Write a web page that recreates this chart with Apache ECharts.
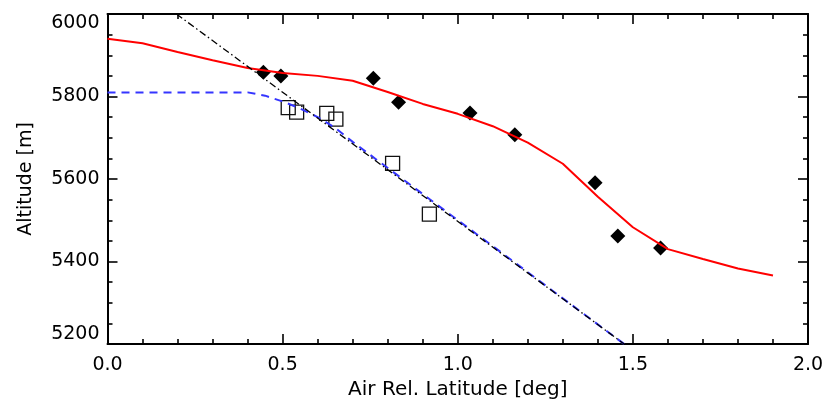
<!DOCTYPE html>
<html>
<head>
<meta charset="utf-8">
<script src="https://cdn.jsdelivr.net/npm/echarts@6/dist/echarts.min.js"></script>
<style>
html,body{margin:0;padding:0;background:#fff;}
#chart{width:826px;height:402px;}
</style>
</head>
<body>
<div id="chart"></div>
<script>
// Red solid model curve
var redX = [0.0, 0.1, 0.2, 0.3, 0.4, 0.5, 0.6, 0.7, 0.8, 0.9, 1.0, 1.1, 1.2, 1.3, 1.4, 1.5, 1.6, 1.7, 1.8, 1.9];
var redY = [5940, 5929, 5908, 5888, 5869, 5857, 5850, 5838, 5811, 5782, 5758, 5728, 5688, 5637, 5557, 5483, 5430, 5406, 5383, 5366];
// Blue dashed model curve
var blueX = [0.0, 0.4, 0.45, 0.5, 0.55, 0.6, 0.65, 0.7, 1.475];
var blueY = [5810, 5810, 5802, 5788, 5771, 5750, 5724, 5690, 5200];
// Black dash-dot straight line
var blackX = [0.197, 1.475];
var blackY = [6000, 5200];
// Filled diamonds
var diamondX = [0.445, 0.495, 0.759, 0.831, 1.035, 1.163, 1.392, 1.457, 1.579];
var diamondY = [5859, 5850, 5844, 5786, 5760, 5707, 5591, 5462, 5433];
// Open squares
var squareX = [0.516, 0.540, 0.626, 0.652, 0.814, 0.919];
var squareY = [5773, 5762, 5759, 5745, 5638, 5515];
// Axis ticks
var xTicks = ["0.0", "0.5", "1.0", "1.5", "2.0"];
var yTicks = ["5200", "5400", "5600", "5800", "6000"];

function pairs(xs, ys) { return xs.map(function (x, i) { return [x, ys[i]]; }); }

var FONT = 'DejaVu Sans';
var axisLineStyle = { color: '#000', width: 2 };
var tickStyle = { color: '#000', width: 1.6 };

function xAx(pos, labels) {
  return {
    type: 'value', position: pos, min: 0, max: 2, interval: 0.5,
    axisLine: { show: true, onZero: false, lineStyle: axisLineStyle },
    axisTick: { show: true, inside: true, length: 10, lineStyle: tickStyle },
    minorTick: { show: true, splitNumber: 5, length: 5, lineStyle: tickStyle },
    splitLine: { show: false },
    axisLabel: { show: labels, margin: 12, color: '#000', fontFamily: FONT, fontSize: 19,
      formatter: function (v) { var i = Math.round(v / 0.5); return xTicks[i]; } },
    name: labels ? 'Air Rel. Latitude [deg]' : '', nameLocation: 'middle', nameGap: 33,
    nameTextStyle: { color: '#000', fontFamily: FONT, fontSize: 20 }
  };
}
function yAx(pos, labels) {
  return {
    type: 'value', position: pos, min: 5200, max: 6000, interval: 200,
    axisLine: { show: true, onZero: false, lineStyle: axisLineStyle },
    axisTick: { show: true, inside: true, length: 10, lineStyle: tickStyle },
    minorTick: { show: true, splitNumber: 4, length: 5, lineStyle: tickStyle },
    splitLine: { show: false },
    axisLabel: { show: labels, margin: 8, color: '#000', fontFamily: FONT, fontSize: 19,
      verticalAlignMaxLabel: 'top', verticalAlignMinLabel: 'bottom',
      formatter: function (v) { var i = Math.round((v - 5200) / 200); return yTicks[i]; } },
    name: labels ? 'Altitude [m]' : '', nameLocation: 'middle', nameGap: 72, nameRotate: 90,
    nameTextStyle: { color: '#000', fontFamily: FONT, fontSize: 19 }
  };
}

var chart = echarts.init(document.getElementById('chart'), null, { renderer: 'canvas' });
chart.setOption({
  animation: false,
  backgroundColor: '#fff',
  grid: { left: 107.5, right: 18, top: 14, bottom: 58, containLabel: false, outerBoundsMode: 'none' },
  xAxis: [xAx('bottom', true), xAx('top', false)],
  yAxis: [yAx('left', true), yAx('right', false)],
  series: [
    { type: 'line', data: pairs(redX, redY), symbol: 'none', silent: true,
      lineStyle: { color: '#ff0000', width: 2 } },
    { type: 'line', data: pairs(blueX, blueY), symbol: 'none', silent: true,
      lineStyle: { color: '#3535ff', width: 2, type: [8, 6] } },
    { type: 'line', data: pairs(blackX, blackY), symbol: 'none', silent: true,
      lineStyle: { color: '#000', width: 1.3, type: [7, 3, 1.5, 3] } },
    { type: 'scatter', data: pairs(squareX, squareY), symbol: 'rect', symbolSize: 14,
      itemStyle: { color: 'rgba(255,255,255,0)', borderColor: '#111', borderWidth: 1.3, opacity: 1 } },
    { type: 'scatter', data: pairs(diamondX, diamondY), symbol: 'diamond', symbolSize: 15,
      itemStyle: { color: '#000', opacity: 1 } }
  ]
});
</script>
</body>
</html>
